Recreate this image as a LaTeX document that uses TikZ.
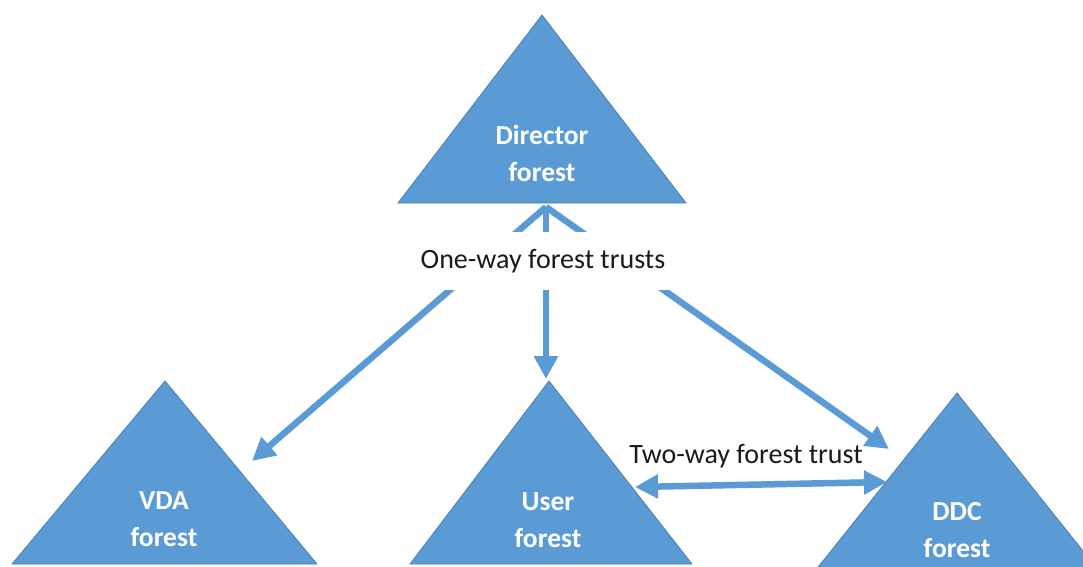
\documentclass[tikz,border=0pt]{standalone}
\usepackage{fontspec}
\setmainfont{Carlito}
\usetikzlibrary{arrows.meta}
\definecolor{tri}{HTML}{5B9BD5}
\definecolor{triedge}{HTML}{4A7FB0}
\definecolor{txt}{HTML}{1A1A1A}
\begin{document}
\begin{tikzpicture}[x=1pt,y=-1pt,
  forest/.style={fill=tri,draw=triedge,line width=0.8pt,line join=miter},
  flabel/.style={text=white,font=\fontsize{27.5}{37}\selectfont\bfseries,align=center,inner sep=0pt},
  tlabel/.style={text=txt,font=\fontsize{28}{32}\selectfont,inner sep=0pt},
  trust/.style={draw=tri,line width=6.5pt,-{Triangle[length=23pt,width=23pt]}},
  twoway/.style={draw=tri,line width=6.5pt,{Triangle[length=23pt,width=23pt]}-{Triangle[length=23pt,width=23pt]}}]
\useasboundingbox (0,0) rectangle (1083,566);
\clip (0,0) rectangle (1083,566);
\fill[white] (0,0) rectangle (1083,566);
% triangles
\draw[forest] (542,15) -- (686,203) -- (398,203) -- cycle;
\draw[forest] (165,381) -- (317,564) -- (12,564) -- cycle;
\draw[forest] (549,381) -- (692,564) -- (410,564) -- cycle;
\draw[forest] (957,393) -- (1103,576) -- (811,576) -- cycle;
% labels
\node[flabel] (director) at (542,153) {Director\\forest};
\node[flabel] (vda) at (164,519) {VDA\\forest};
\node[flabel] (user) at (548,520) {User\\forest};
\node[flabel] (ddc) at (957,530) {DDC\\forest};
% connector end points
\coordinate (dirbase) at (546,207);
\coordinate (vdatip) at (252,461);
\coordinate (usertip) at (546,379);
\coordinate (ddctip) at (889,449);
\coordinate (userside) at (635,487);
\coordinate (ddcside) at (887,482);
% one-way trusts
\draw[trust] (dirbase) -- (vdatip);
\draw[trust] (dirbase) -- (usertip);
\draw[trust] (dirbase) -- (ddctip);
\node[tlabel,fill=white,minimum height=58pt,inner xsep=4pt] (oneway) at (543,261) {One-way forest trusts};
% two-way trust
\draw[twoway] (userside) -- (ddcside);
\node[tlabel] (twolabel) at (746,456) {Two-way forest trust};
\end{tikzpicture}
\end{document}
